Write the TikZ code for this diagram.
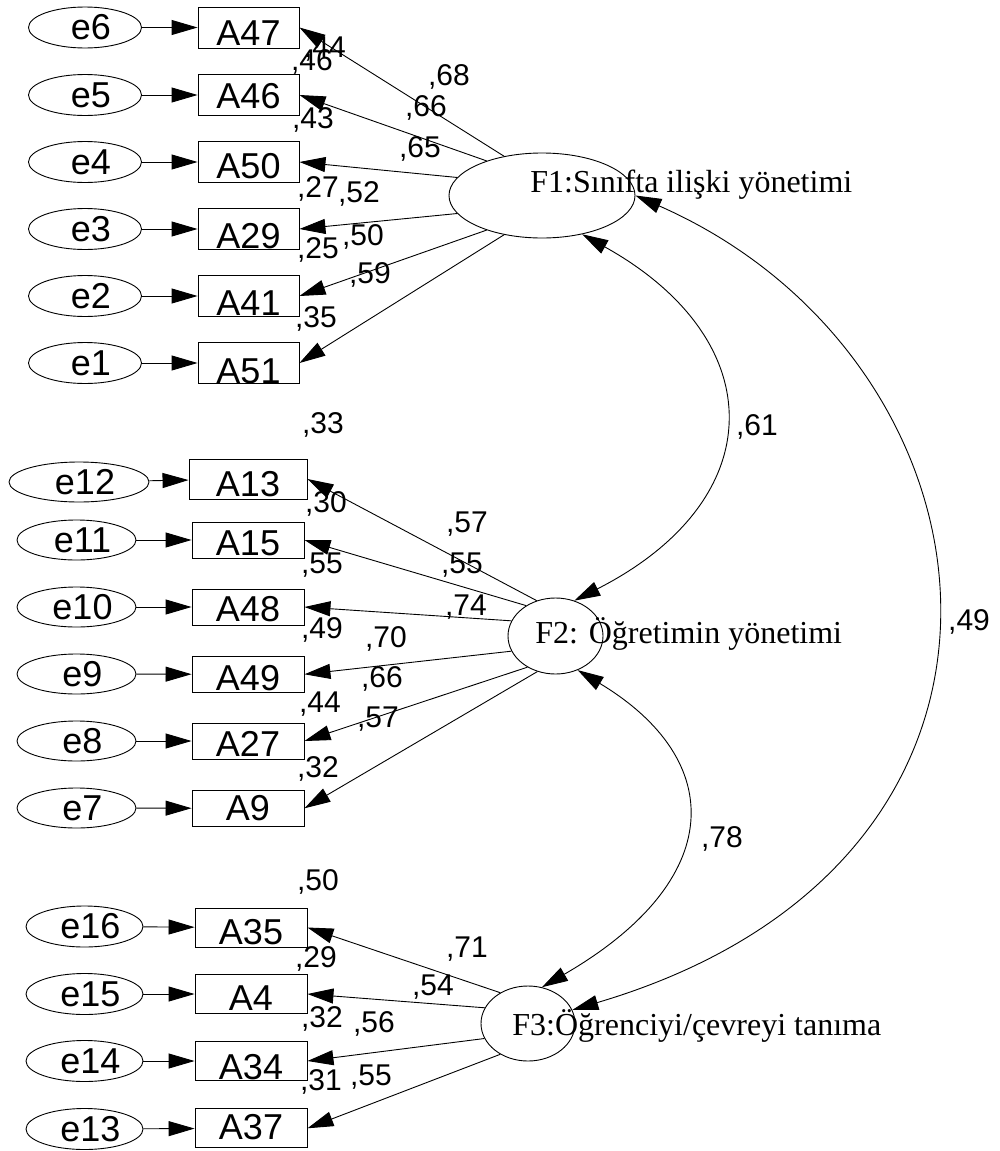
\documentclass[tikz,border=0pt]{standalone}
\usepackage{fontspec}
\setmainfont{Liberation Serif}
\newfontfamily\arialf{Liberation Sans}
\usetikzlibrary{shapes.geometric,arrows.meta}
\newcommand\bx[2]{\raisebox{-#1pt}[0pt][0pt]{#2}}
\newcommand\ex[1]{\hspace*{12pt}#1}
\begin{document}
\begin{tikzpicture}[x=1pt,y=-1pt,line width=0.9pt,
  errv/.style={draw,ellipse,inner sep=0pt,font=\arialf\fontsize{36}{40}\selectfont},
  obsv/.style={draw,rectangle,inner sep=0pt,font=\arialf\fontsize{36}{40}\selectfont},
  latv/.style={draw,ellipse,inner sep=0pt},
  pth/.style={-{Triangle[length=26pt,width=15pt]}},
  cov/.style={{Triangle[length=26pt,width=15pt]}-{Triangle[length=26pt,width=15pt]}},
  coef/.style={anchor=base,inner sep=0pt,font=\arialf\fontsize{30}{34}\selectfont},
  fname/.style={anchor=base west,inner sep=0pt,font=\fontsize{32}{36}\selectfont}]
\useasboundingbox (0,0) rectangle (999,1151);
\fill[white] (0,0) rectangle (999,1151);

% ---------- F1 block ----------
\node[errv,minimum width=113pt,minimum height=41pt] (e6) at (85,27.5) {\ex{e6}};
\node[errv,minimum width=113pt,minimum height=41pt] (e5) at (85,95) {\ex{e5}};
\node[errv,minimum width=113pt,minimum height=41pt] (e4) at (85,162) {\ex{e4}};
\node[errv,minimum width=113pt,minimum height=41pt] (e3) at (85,229) {\ex{e3}};
\node[errv,minimum width=113pt,minimum height=41pt] (e2) at (85,296) {\ex{e2}};
\node[errv,minimum width=113pt,minimum height=41pt] (e1) at (85,363) {\ex{e1}};
\node[obsv,minimum width=101pt,minimum height=41pt] (A47) at (248.5,27.5) {\bx{17.5}{A47}};
\node[obsv,minimum width=101pt,minimum height=41pt] (A46) at (248.5,95) {\bx{13}{A46}};
\node[obsv,minimum width=101pt,minimum height=41pt] (A50) at (248.5,162) {\bx{16}{A50}};
\node[obsv,minimum width=101pt,minimum height=41pt] (A29) at (248.5,229) {\bx{19}{A29}};
\node[obsv,minimum width=101pt,minimum height=41pt] (A41) at (248.5,296) {\bx{19}{A41}};
\node[obsv,minimum width=101pt,minimum height=41pt] (A51) at (248.5,363) {\bx{20}{A51}};
\node[latv,minimum width=186pt,minimum height=85pt] (F1) at (542,195.5) {};
\node[fname] (n1) at (530,192) {F1:Sınıfta ilişki yönetimi};
\draw[pth] (e6) -- (A47);
\draw[pth] (e5) -- (A46);
\draw[pth] (e4) -- (A50);
\draw[pth] (e3) -- (A29);
\draw[pth] (e2) -- (A41);
\draw[pth] (e1) -- (A51);
\draw[pth] (F1.134) -- (A47.east);
\draw[pth] (F1.148) -- (A46.east);
\draw[pth] (F1.168) -- (A50.east);
\draw[pth] (F1.-168) -- (A29.east);
\draw[pth] (F1.-148) -- (A41.east);
\draw[pth] (F1.-134) -- (A51.east);

% ---------- F2 block ----------
\node[errv,minimum width=140pt,minimum height=40pt] (e12) at (79,482) {\ex{e12}};
\node[errv,minimum width=119pt,minimum height=40pt] (e11) at (76.5,540) {\ex{e11}};
\node[errv,minimum width=119pt,minimum height=40pt] (e10) at (76.5,607) {\ex{e10}};
\node[errv,minimum width=119pt,minimum height=40pt] (e9) at (76.5,674) {\ex{e9}};
\node[errv,minimum width=119pt,minimum height=40pt] (e8) at (76.5,741) {\ex{e8}};
\node[errv,minimum width=119pt,minimum height=40pt] (e7) at (76.5,808) {\ex{e7}};
\node[obsv,minimum width=118pt,minimum height=40pt] (A13) at (248,479) {\bx{17.7}{A13}};
\node[obsv,minimum width=112pt,minimum height=36pt] (A15) at (248,540) {\bx{15}{A15}};
\node[obsv,minimum width=112pt,minimum height=36pt] (A48) at (248,607) {\bx{14.7}{A48}};
\node[obsv,minimum width=112pt,minimum height=36pt] (A49) at (248,674.3) {\bx{16.4}{A49}};
\node[obsv,minimum width=112pt,minimum height=36pt] (A27) at (248,741) {\bx{15.7}{A27}};
\node[obsv,minimum width=112pt,minimum height=36pt] (A9) at (248,808.3) {\bx{12.4}{A9}};
\node[latv,minimum width=95pt,minimum height=76pt] (F2) at (555.5,636) {};
\node[fname] (n2) at (535,643) {F2: Öğretimin yönetimi};
\draw[pth] (e12) -- (A13);
\draw[pth] (e11) -- (A15);
\draw[pth] (e10) -- (A48);
\draw[pth] (e9) -- (A49);
\draw[pth] (e8) -- (A27);
\draw[pth] (e7) -- (A9);
\draw[pth] (F2.118.5) -- (A13.east);
\draw[pth] (F2.134.5) -- (A15.east);
\draw[pth] (F2.161) -- (A48.east);
\draw[pth] (F2.-161.4) -- (A49.east);
\draw[pth] (F2.-132.6) -- (A27.east);
\draw[pth] (F2.-117.9) -- (A9.east);

% ---------- F3 block ----------
\node[errv,minimum width=117pt,minimum height=41pt] (e16) at (84.5,926.5) {\ex{e16}};
\node[errv,minimum width=117pt,minimum height=41pt] (e15) at (84.5,994) {\ex{e15}};
\node[errv,minimum width=117pt,minimum height=41pt] (e14) at (84.5,1061) {\ex{e14}};
\node[errv,minimum width=117pt,minimum height=41pt] (e13) at (84.5,1129) {\ex{e13}};
\node[obsv,minimum width=112pt,minimum height=39pt] (A35) at (251,927.5) {\bx{16.5}{A35}};
\node[obsv,minimum width=112pt,minimum height=39pt] (A4) at (251,994) {\bx{16.7}{A4}};
\node[obsv,minimum width=112pt,minimum height=39pt] (A34) at (251,1061) {\bx{18.3}{A34}};
\node[obsv,minimum width=112pt,minimum height=39pt] (A37) at (251,1128.3) {\bx{11}{A37}};
\node[latv,minimum width=94pt,minimum height=75pt] (F3) at (528,1023.5) {};
\node[fname] (n3) at (512,1035) {F3:Öğrenciyi/çevreyi tanıma};
\draw[pth] (e16) -- (A35);
\draw[pth] (e15) -- (A4);
\draw[pth] (e14) -- (A34);
\draw[pth] (e13) -- (A37);
\draw[pth] (F3.132.6) -- (A35.east);
\draw[pth] (F3.160.6) -- (A4.east);
\draw[pth] (F3.-161) -- (A34.east);
\draw[pth] (F3.-132.5) -- (A37.east);

% ---------- covariances ----------
\draw[cov] (F1.-44.6) .. controls (772,340) and (772,500) .. (F2.62.8);
\draw[cov] (F2.-57.7) .. controls (727,760) and (727,880) .. (F3.69);
\draw[cov] (F1.0) .. controls (1010,360) and (1080,860) .. (F3.17.9);

% ---------- coefficients ----------
\node[coef] (c1) at (325,57) {,44};
\node[coef] (c2) at (312,70) {,46};
\node[coef] (c3) at (449,85) {,68};
\node[coef] (c4) at (426,116) {,66};
\node[coef] (c5) at (313,128) {,43};
\node[coef] (c6) at (420,157) {,65};
\node[coef] (c7) at (318,197) {,27};
\node[coef] (c8) at (359,202) {,52};
\node[coef] (c9) at (363,245) {,50};
\node[coef] (c10) at (318,258) {,25};
\node[coef] (c11) at (370,283) {,59};
\node[coef] (c12) at (316,327) {,35};
\node[coef] (c13) at (323,433) {,33};
\node[coef] (c14) at (326,512) {,30};
\node[coef] (c15) at (467,532) {,57};
\node[coef] (c16) at (462,573) {,55};
\node[coef] (c17) at (322,573) {,55};
\node[coef] (c18) at (466,615) {,74};
\node[coef] (c19) at (322,638) {,49};
\node[coef] (c20) at (386,647) {,70};
\node[coef] (c21) at (382,687) {,66};
\node[coef] (c22) at (320,712) {,44};
\node[coef] (c23) at (378,727) {,57};
\node[coef] (c24) at (318,777) {,32};
\node[coef] (c25) at (318,890) {,50};
\node[coef] (c26) at (467,957) {,71};
\node[coef] (c27) at (316,967) {,29};
\node[coef] (c28) at (433,995) {,54};
\node[coef] (c29) at (322,1027) {,32};
\node[coef] (c30) at (374,1032) {,56};
\node[coef] (c31) at (321,1090) {,31};
\node[coef] (c32) at (371,1085) {,55};
\node[coef] (c33) at (757,435) {,61};
\node[coef] (c34) at (722,847) {,78};
\node[coef] (c35) at (969,630) {,49};
\end{tikzpicture}
\end{document}
